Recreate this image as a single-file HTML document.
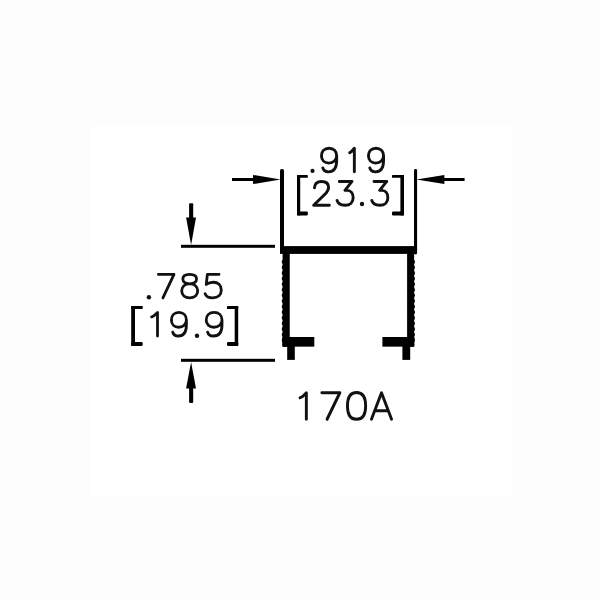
<!DOCTYPE html>
<html><head><meta charset="utf-8"><title>170A</title>
<style>
html,body{margin:0;padding:0;background:#fdfdfd;font-family:"Liberation Sans",sans-serif;}
body{width:600px;height:600px;overflow:hidden;position:relative}
#inner{position:absolute;left:90px;top:126px;width:423px;height:370px;background:#fff}
svg{position:absolute;left:0;top:0}
</style></head><body>
<div id="inner"></div>
<svg width="600" height="600" viewBox="0 0 600 600">
<g fill="#000" stroke="none">
<!-- extension lines top -->
<rect x="280" y="169" width="4" height="80" rx="1.6"/>
<rect x="414" y="169" width="3.1" height="85.4" rx="1.4"/>
<!-- horizontal arrows -->
<rect x="232" y="178" width="24" height="3"/>
<polygon points="253,174.9 280.6,179.5 253,184.1"/>
<rect x="442" y="178" width="22.6" height="3"/>
<polygon points="444.4,174.9 416.3,179.5 444.4,184.1"/>
<!-- profile -->
<rect x="280" y="246.1" width="136" height="7.8"/>
<polygon points="289.75,250.00 282.60,250.00 282.60,259.00 282.60,259.00 282.47,259.70 282.15,260.40 281.83,261.10 281.70,261.80 281.83,262.50 282.15,263.20 282.47,263.90 282.60,264.60 282.47,265.30 282.15,266.00 281.83,266.70 281.70,267.40 281.83,268.10 282.15,268.80 282.47,269.50 282.60,270.20 282.47,270.90 282.15,271.60 281.83,272.30 281.70,273.00 281.83,273.70 282.15,274.40 282.47,275.10 282.60,275.80 282.47,276.50 282.15,277.20 281.83,277.90 281.70,278.60 281.83,279.30 282.15,280.00 282.47,280.70 282.60,281.40 282.47,282.10 282.15,282.80 281.83,283.50 281.70,284.20 281.83,284.90 282.15,285.60 282.47,286.30 282.60,287.00 282.47,287.70 282.15,288.40 281.83,289.10 281.70,289.80 281.83,290.50 282.15,291.20 282.47,291.90 282.60,292.60 282.47,293.30 282.15,294.00 281.83,294.70 281.70,295.40 281.83,296.10 282.15,296.80 282.47,297.50 282.60,298.20 282.47,298.90 282.15,299.60 281.83,300.30 281.70,301.00 281.83,301.70 282.15,302.40 282.47,303.10 282.60,303.80 282.47,304.50 282.15,305.20 281.83,305.90 281.70,306.60 281.83,307.30 282.15,308.00 282.47,308.70 282.60,309.40 282.47,310.10 282.15,310.80 281.83,311.50 281.70,312.20 281.83,312.90 282.15,313.60 282.47,314.30 282.60,315.00 282.47,315.70 282.15,316.40 281.83,317.10 281.70,317.80 281.83,318.50 282.15,319.20 282.47,319.90 282.60,320.60 282.47,321.30 282.15,322.00 281.83,322.70 281.70,323.40 281.83,324.10 282.15,324.80 282.47,325.50 282.60,326.20 282.47,326.90 282.15,327.60 281.83,328.30 281.70,329.00 281.83,329.70 282.15,330.40 282.47,331.10 282.60,331.80 282.47,332.50 282.15,333.20 281.83,333.90 281.70,334.60 281.83,335.30 282.15,336.00 282.47,336.70 282.60,337.40 282.47,338.10 282.15,338.80 281.83,339.50 281.70,340.20 281.83,340.90 282.15,341.60 282.47,342.30 282.60,343.00 282.47,343.70 282.15,344.40 282.60,345.00 282.60,346.65 289.75,346.65"/>
<polygon points="407.10,250.00 414.10,250.00 414.10,259.00 414.10,259.00 414.23,259.70 414.55,260.40 414.87,261.10 415.00,261.80 414.87,262.50 414.55,263.20 414.23,263.90 414.10,264.60 414.23,265.30 414.55,266.00 414.87,266.70 415.00,267.40 414.87,268.10 414.55,268.80 414.23,269.50 414.10,270.20 414.23,270.90 414.55,271.60 414.87,272.30 415.00,273.00 414.87,273.70 414.55,274.40 414.23,275.10 414.10,275.80 414.23,276.50 414.55,277.20 414.87,277.90 415.00,278.60 414.87,279.30 414.55,280.00 414.23,280.70 414.10,281.40 414.23,282.10 414.55,282.80 414.87,283.50 415.00,284.20 414.87,284.90 414.55,285.60 414.23,286.30 414.10,287.00 414.23,287.70 414.55,288.40 414.87,289.10 415.00,289.80 414.87,290.50 414.55,291.20 414.23,291.90 414.10,292.60 414.23,293.30 414.55,294.00 414.87,294.70 415.00,295.40 414.87,296.10 414.55,296.80 414.23,297.50 414.10,298.20 414.23,298.90 414.55,299.60 414.87,300.30 415.00,301.00 414.87,301.70 414.55,302.40 414.23,303.10 414.10,303.80 414.23,304.50 414.55,305.20 414.87,305.90 415.00,306.60 414.87,307.30 414.55,308.00 414.23,308.70 414.10,309.40 414.23,310.10 414.55,310.80 414.87,311.50 415.00,312.20 414.87,312.90 414.55,313.60 414.23,314.30 414.10,315.00 414.23,315.70 414.55,316.40 414.87,317.10 415.00,317.80 414.87,318.50 414.55,319.20 414.23,319.90 414.10,320.60 414.23,321.30 414.55,322.00 414.87,322.70 415.00,323.40 414.87,324.10 414.55,324.80 414.23,325.50 414.10,326.20 414.23,326.90 414.55,327.60 414.87,328.30 415.00,329.00 414.87,329.70 414.55,330.40 414.23,331.10 414.10,331.80 414.23,332.50 414.55,333.20 414.87,333.90 415.00,334.60 414.87,335.30 414.55,336.00 414.23,336.70 414.10,337.40 414.23,338.10 414.55,338.80 414.87,339.50 415.00,340.20 414.87,340.90 414.55,341.60 414.23,342.30 414.10,343.00 414.23,343.70 414.55,344.40 414.10,345.00 414.10,346.65 407.10,346.65"/>
<rect x="282.4" y="337" width="31.9" height="9.65"/>
<rect x="382.4" y="337" width="31.9" height="9.65"/>
<rect x="287.2" y="345" width="7.6" height="14.9"/>
<rect x="402.4" y="345" width="7.8" height="14.9"/>
<!-- left dim ext lines -->
<rect x="181" y="244.8" width="94" height="3"/>
<rect x="181" y="358.8" width="94" height="3"/>
<!-- vertical arrows -->
<rect x="189.1" y="203.2" width="4.1" height="17" rx="1"/>
<polygon points="186.1,217.6 196,217.6 191.1,245"/>
<rect x="189.1" y="386" width="4.1" height="16.9" rx="1"/>
<polygon points="186.1,388.4 196,388.4 191.1,362"/>
</g>
<g fill="none" stroke="#111" stroke-linecap="round" stroke-linejoin="round">
<circle cx="312.50" cy="170.90" r="2.10" fill="#111" stroke="none"/>
<path d="M336.65,155.80 C336.65,151.32 333.61,148.25 329.05,148.25 C324.49,148.25 321.45,151.32 321.45,155.80 C321.45,160.05 324.49,163.12 328.75,163.12 C333.31,163.12 336.65,160.05 336.65,155.80 L336.65,160.52 C336.65,168.07 333.61,171.85 328.44,171.85 C325.55,171.85 323.43,170.43 322.82,167.96" stroke-width="2.90"/>
<path d="M349.65,152.73 L351.53,151.55 L354.35,148.25 L354.35,171.85" stroke-width="2.90"/>
<path d="M383.55,155.80 C383.55,151.32 380.53,148.25 376.00,148.25 C371.47,148.25 368.45,151.32 368.45,155.80 C368.45,160.05 371.47,163.12 375.70,163.12 C380.23,163.12 383.55,160.05 383.55,155.80 L383.55,160.52 C383.55,168.07 380.53,171.85 375.40,171.85 C372.53,171.85 370.41,170.43 369.81,167.96" stroke-width="2.90"/>
<g fill="#000" stroke="none"><rect x="297.00" y="175.00" width="3.20" height="40.40"/><rect x="297.00" y="175.00" width="10.80" height="2.80" rx="0.6"/><rect x="297.00" y="211.40" width="10.80" height="4.00" rx="1.2"/></g>
<path d="M314.44,187.88 C314.75,183.35 317.57,181.45 321.50,181.45 C325.74,181.45 328.56,183.59 328.56,187.40 C328.56,190.49 326.52,192.64 324.64,194.54 L313.65,205.25 L329.35,205.25" stroke-width="2.90"/>
<path d="M339.30,181.45 L352.02,181.45 L344.94,190.38 L347.03,190.38 C350.90,190.38 353.15,193.35 353.15,197.63 C353.15,202.16 350.25,205.25 345.10,205.25 C340.59,205.25 337.86,203.58 337.05,200.49" stroke-width="2.90"/>
<circle cx="362.00" cy="204.00" r="2.20" fill="#111" stroke="none"/>
<path d="M374.00,181.45 L386.72,181.45 L379.64,190.38 L381.73,190.38 C385.60,190.38 387.85,193.35 387.85,197.63 C387.85,202.16 384.95,205.25 379.80,205.25 C375.29,205.25 372.56,203.58 371.75,200.49" stroke-width="2.90"/>
<g fill="#000" stroke="none"><rect x="400.40" y="175.00" width="3.60" height="40.40"/><rect x="392.00" y="175.00" width="12.00" height="2.80" rx="0.6"/><rect x="392.00" y="211.40" width="12.00" height="4.00" rx="1.2"/></g>
<circle cx="148.90" cy="297.20" r="2.20" fill="#111" stroke="none"/>
<path d="M158.40,274.40 L174.00,274.40 L162.92,297.90" stroke-width="2.80"/>
<path d="M189.70,274.40 C185.22,274.40 182.82,276.28 182.82,279.10 C182.82,281.92 185.70,283.80 189.70,283.80 C194.50,283.80 197.70,286.62 197.70,290.85 C197.70,295.08 194.50,297.90 189.70,297.90 C184.90,297.90 181.70,295.08 181.70,290.85 C181.70,286.62 184.90,283.80 189.70,283.80 C193.70,283.80 196.58,281.92 196.58,279.10 C196.58,276.28 194.18,274.40 189.70,274.40 Z" stroke-width="2.80"/>
<path d="M219.03,274.40 L207.37,274.40 L206.23,284.50 C208.34,282.86 210.77,282.23 213.20,282.23 C218.06,282.23 221.30,284.98 221.30,290.07 C221.30,294.85 218.06,297.90 212.71,297.90 C208.34,297.90 205.91,296.26 205.10,293.67" stroke-width="2.80"/>
<g fill="#000" stroke="none"><rect x="131.20" y="306.00" width="3.80" height="40.00"/><rect x="131.20" y="306.00" width="11.50" height="3.00" rx="0.6"/><rect x="131.20" y="342.00" width="11.50" height="4.00" rx="1.2"/></g>
<path d="M151.60,316.88 L153.96,315.70 L157.50,312.40 L157.50,336.00" stroke-width="2.80"/>
<path d="M186.40,319.95 C186.40,315.47 183.40,312.40 178.90,312.40 C174.40,312.40 171.40,315.47 171.40,319.95 C171.40,324.20 174.40,327.27 178.60,327.27 C183.10,327.27 186.40,324.20 186.40,319.95 L186.40,324.67 C186.40,332.22 183.40,336.00 178.30,336.00 C175.45,336.00 173.35,334.58 172.75,332.11" stroke-width="2.80"/>
<circle cx="197.00" cy="335.80" r="2.20" fill="#111" stroke="none"/>
<path d="M222.00,319.95 C222.00,315.47 218.84,312.40 214.10,312.40 C209.36,312.40 206.20,315.47 206.20,319.95 C206.20,324.20 209.36,327.27 213.78,327.27 C218.52,327.27 222.00,324.20 222.00,319.95 L222.00,324.67 C222.00,332.22 218.84,336.00 213.47,336.00 C210.47,336.00 208.25,334.58 207.62,332.11" stroke-width="2.80"/>
<g fill="#000" stroke="none"><rect x="234.70" y="306.00" width="3.50" height="40.00"/><rect x="227.00" y="306.00" width="11.20" height="3.00" rx="0.6"/><rect x="227.00" y="342.00" width="11.20" height="4.00" rx="1.2"/></g>
<path d="M300.05,397.79 L302.57,396.46 L306.35,392.75 L306.35,419.25" stroke-width="2.90"/>
<path d="M321.85,392.75 L339.85,392.75 L327.07,419.25" stroke-width="2.90"/>
<path d="M356.55,392.55 C350.54,392.55 347.45,397.09 347.45,405.90 C347.45,414.71 350.54,419.25 356.55,419.25 C362.56,419.25 365.65,414.71 365.65,405.90 C365.65,397.09 362.56,392.55 356.55,392.55 Z" stroke-width="2.90"/>
<path d="M371.45,419.25 L381.50,392.75 L391.55,419.25 M374.87,410.77 L388.13,410.77" stroke-width="2.90"/>
</g>
</svg>
</body></html>
